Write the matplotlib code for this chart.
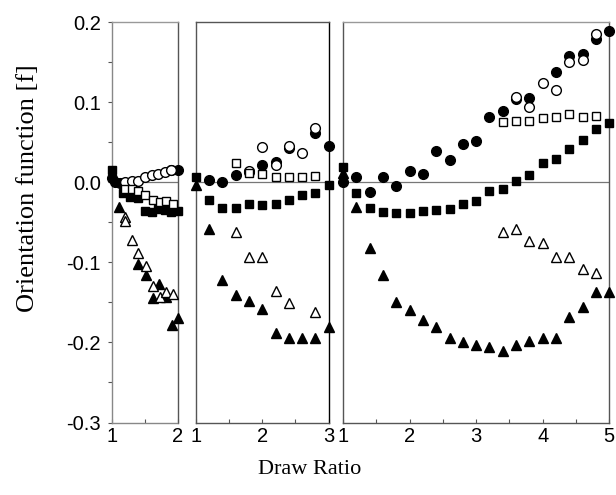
import matplotlib
matplotlib.use("Agg")
import matplotlib.pyplot as plt
from matplotlib.ticker import MultipleLocator

# ---------------- data: panel 1 (draw ratio 1-2) ----------------
p1_fc_x = [1.0, 1.05, 1.12, 1.9, 2.0]
p1_fc_y = [0.005, 0.0, -0.001, 0.015, 0.015]
p1_oc_x = [1.2, 1.3, 1.4, 1.5, 1.6, 1.7, 1.8, 1.9]
p1_oc_y = [0.0, 0.001, 0.002, 0.006, 0.009, 0.010, 0.013, 0.015]
p1_fs_x = [1.0, 1.17, 1.28, 1.39, 1.5, 1.6, 1.7, 1.8, 1.9, 2.0]
p1_fs_y = [0.015, -0.013, -0.019, -0.020, -0.036, -0.037, -0.033, -0.035, -0.037, -0.036]
p1_os_x = [1.2, 1.3, 1.4, 1.5, 1.62, 1.72, 1.82, 1.92]
p1_os_y = [-0.008, -0.008, -0.011, -0.016, -0.022, -0.025, -0.023, -0.027]
p1_ft_x = [1.1, 1.39, 1.51, 1.62, 1.71, 1.82, 1.91, 2.0]
p1_ft_y = [-0.031, -0.102, -0.116, -0.145, -0.127, -0.143, -0.178, -0.169]
p1_ot_x = [1.19, 1.2, 1.3, 1.4, 1.51, 1.62, 1.72, 1.82, 1.92]
p1_ot_y = [-0.043, -0.048, -0.072, -0.089, -0.104, -0.130, -0.143, -0.137, -0.139]

# ---------------- data: panel 2 (draw ratio 1-3) ----------------
p2_fc_x = [1.2, 1.4, 1.6, 1.8, 2.0, 2.2, 2.4, 2.8, 3.0]
p2_fc_y = [0.003, 0.0, 0.009, 0.013, 0.022, 0.025, 0.043, 0.061, 0.045]
p2_oc_x = [1.8, 2.0, 2.2, 2.4, 2.6, 2.8]
p2_oc_y = [0.014, 0.044, 0.021, 0.045, 0.037, 0.068]
p2_fs_x = [1.0, 1.2, 1.4, 1.6, 1.8, 2.0, 2.2, 2.4, 2.6, 2.8, 3.0]
p2_fs_y = [0.007, -0.022, -0.032, -0.032, -0.027, -0.028, -0.027, -0.022, -0.016, -0.014, -0.004]
p2_os_x = [1.6, 1.8, 2.0, 2.2, 2.4, 2.6, 2.8]
p2_os_y = [0.024, 0.012, 0.010, 0.007, 0.006, 0.006, 0.008]
p2_ft_x = [1.0, 1.2, 1.4, 1.6, 1.8, 2.0, 2.2, 2.4, 2.6, 2.8, 3.0]
p2_ft_y = [-0.003, -0.058, -0.122, -0.141, -0.148, -0.158, -0.188, -0.194, -0.195, -0.195, -0.181]
p2_ot_x = [1.6, 1.8, 2.0, 2.2, 2.4, 2.8]
p2_ot_y = [-0.062, -0.093, -0.094, -0.136, -0.151, -0.162]

# ---------------- data: panel 3 (draw ratio 1-5) ----------------
p3_fc_x = [1.0, 1.2, 1.4, 1.6, 1.8, 2.0, 2.2, 2.4, 2.6, 2.8, 3.0, 3.2, 3.4,
           3.6, 3.8, 4.2, 4.4, 4.6, 4.8, 5.0]
p3_fc_y = [0.0, 0.006, -0.012, 0.006, -0.005, 0.014, 0.010, 0.039, 0.028, 0.048,
           0.052, 0.082, 0.089, 0.104, 0.105, 0.138, 0.157, 0.160, 0.179, 0.189]
p3_oc_x = [3.6, 3.8, 4.0, 4.2, 4.4, 4.6, 4.8]
p3_oc_y = [0.106, 0.094, 0.124, 0.115, 0.150, 0.152, 0.185]
p3_fs_x = [1.0, 1.2, 1.4, 1.6, 1.8, 2.0, 2.2, 2.4, 2.6, 2.8, 3.0, 3.2, 3.4,
           3.6, 3.8, 4.0, 4.2, 4.4, 4.6, 4.8, 5.0]
p3_fs_y = [0.019, -0.013, -0.032, -0.037, -0.039, -0.039, -0.036, -0.035, -0.034,
           -0.027, -0.023, -0.011, -0.009, 0.001, 0.009, 0.024, 0.029, 0.042,
           0.053, 0.066, 0.074]
p3_os_x = [3.4, 3.6, 3.8, 4.0, 4.2, 4.4, 4.6, 4.8]
p3_os_y = [0.075, 0.077, 0.077, 0.080, 0.081, 0.085, 0.081, 0.083]
p3_ft_x = [1.0, 1.2, 1.4, 1.6, 1.8, 2.0, 2.2, 2.4, 2.6, 2.8, 3.0, 3.2, 3.4,
           3.6, 3.8, 4.0, 4.2, 4.4, 4.6, 4.8, 5.0]
p3_ft_y = [0.011, -0.031, -0.082, -0.116, -0.149, -0.160, -0.172, -0.181, -0.195,
           -0.200, -0.203, -0.206, -0.211, -0.203, -0.198, -0.194, -0.194, -0.168,
           -0.156, -0.137, -0.137]
p3_ot_x = [3.4, 3.6, 3.8, 4.0, 4.2, 4.4, 4.6, 4.8]
p3_ot_y = [-0.062, -0.058, -0.073, -0.076, -0.093, -0.093, -0.108, -0.113]

p1_xticks = [1, 2]
p2_xticks = [1, 2, 3]
p3_xticks = [1, 2, 3, 4, 5]
y_ticks = [0.2, 0.1, 0.0, -0.1, -0.2, -0.3]
y_ticklabels = ["0.2", "0.1", "0.0", "-0.1", "-0.2", "-0.3"]

# ---------------- figure ----------------
fig = plt.figure(figsize=(6.16, 4.95), dpi=100)
bottom = 1 - 422.5 / 495
height = (422.5 - 22) / 495
ax1 = fig.add_axes([112 / 616, bottom, 66 / 616, height])
ax2 = fig.add_axes([195.7 / 616, bottom, 133 / 616, height])
ax3 = fig.add_axes([343 / 616, bottom, 266.3 / 616, height])

tickfont = "Liberation Sans"
serif = "Liberation Serif"

panels = [
    (ax1, (1, 2), p1_xticks,
     [(p1_fc_x, p1_fc_y, 'o', True), (p1_oc_x, p1_oc_y, 'o', False),
      (p1_fs_x, p1_fs_y, 's', True), (p1_os_x, p1_os_y, 's', False),
      (p1_ft_x, p1_ft_y, '^', True), (p1_ot_x, p1_ot_y, '^', False)]),
    (ax2, (1, 3), p2_xticks,
     [(p2_fc_x, p2_fc_y, 'o', True), (p2_oc_x, p2_oc_y, 'o', False),
      (p2_fs_x, p2_fs_y, 's', True), (p2_os_x, p2_os_y, 's', False),
      (p2_ft_x, p2_ft_y, '^', True), (p2_ot_x, p2_ot_y, '^', False)]),
    (ax3, (1, 5), p3_xticks,
     [(p3_fc_x, p3_fc_y, 'o', True), (p3_oc_x, p3_oc_y, 'o', False),
      (p3_fs_x, p3_fs_y, 's', True), (p3_os_x, p3_os_y, 's', False),
      (p3_ft_x, p3_ft_y, '^', True), (p3_ot_x, p3_ot_y, '^', False)]),
]

msize = {'o': 7.0, 's': 6.0, '^': 7.5}

for ax, xlim, xt, series in panels:
    ax.set_xlim(*xlim)
    ax.set_ylim(-0.3, 0.2)
    ax.axhline(0, color="#777777", lw=0.9, zorder=1)
    for xs, ys, m, filled in series:
        ax.plot(xs, ys, linestyle='none', marker=m, markersize=msize[m],
                markerfacecolor='black' if filled else 'white',
                markeredgecolor='black', markeredgewidth=1.0,
                clip_on=False, zorder=3)
    ax.set_xticks(xt)
    ax.xaxis.set_minor_locator(MultipleLocator(0.5))
    ax.tick_params(axis='x', which='both', direction='in', length=3,
                   width=0.8, color="#555555", pad=3, labelsize=14.5)
    for lab in ax.get_xticklabels():
        lab.set_fontfamily(tickfont)
    for s in ax.spines.values():
        s.set_color("#555555")
        s.set_linewidth(1.0)

# y axis only on first panel
ax1.set_yticks(y_ticks)
ax1.set_yticklabels(y_ticklabels, fontfamily=tickfont)
ax1.yaxis.set_minor_locator(MultipleLocator(0.05))
ax1.tick_params(axis='y', which='both', direction='out', length=3,
                width=0.8, color="#555555", pad=5, labelsize=14.5)
for ax in (ax2, ax3):
    ax.tick_params(axis='y', which='both', left=False, labelleft=False)

ax1.spines['left'].set_linestyle((0, (2, 1)))
ax1.spines['left'].set_color("#888888")
ax1.spines['top'].set_color("#999999")
ax1.spines['bottom'].set_linestyle((0, (2, 1)))
ax1.spines['bottom'].set_color("#888888")
ax3.spines['right'].set_linestyle((0, (3, 1)))
ax3.spines['top'].set_color("#999999")
ax2.spines['right'].set_color("black")

fig.text(28 / 616, 1 - 188 / 495, "Orientation function [f]",
         rotation=90, ha='center', va='center', fontsize=19, fontfamily=serif)
fig.text(310 / 616, 1 - 470 / 495, "Draw Ratio", ha='center', va='center',
         fontsize=16, fontfamily=serif)

fig.savefig("out.png", dpi=100)
